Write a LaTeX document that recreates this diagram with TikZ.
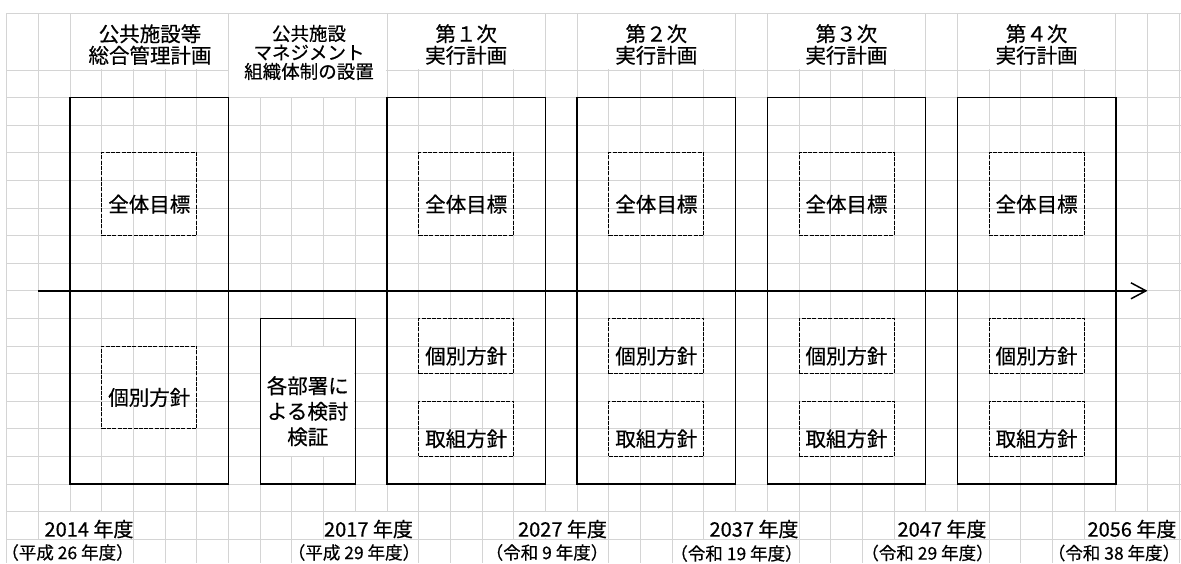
\documentclass[tikz,border=0pt]{standalone}
\usepackage{fontspec}
\setmainfont{Noto Sans CJK JP}[FakeBold=0.5]
\usetikzlibrary{arrows.meta,fit}
\definecolor{gridc}{HTML}{D4D4D4}
\begin{document}
\begin{tikzpicture}[x=1pt,y=-1pt,
  declare function={cx(\k)=6.7+31.69*\k; ry(\j)=70+27.6*(\j-1);},
  gridline/.style={draw=gridc,line width=0.9pt},
  mask/.style={fill=white},
  mainbox/.style={draw=black,line width=1.4pt,inner sep=0pt},
  subbox/.style={draw=black,line width=0.9pt,dash pattern=on 4pt off 1.3pt,inner sep=0pt},
  body/.style={font=\fontsize{20.5}{25.5}\selectfont,align=center,inner sep=0pt},
  head/.style={font=\fontsize{20.5}{21.5}\selectfont,align=center,inner sep=0pt},
  headsmall/.style={font=\fontsize{18.5}{19}\selectfont,align=center,inner sep=0pt},
  yearlbl/.style={font=\fontsize{20}{20}\selectfont,inner sep=0pt},
  eralbl/.style={font=\fontsize{17.5}{17.5}\selectfont,inner sep=0pt},
  timeline/.style={line width=1.5pt,-{Straight Barb[length=15pt,width=16pt,line width=1.5pt]}}
]
\useasboundingbox (0,0) rectangle (1181,563);
% grid
\foreach \k in {0,...,37} \draw[gridline] ({cx(\k)},13.3) -- ({cx(\k)},563);
\draw[gridline] (6.7,13.3) -- (1181,13.3);
\foreach \j in {1,...,18} \draw[gridline] (6.7,{ry(\j)}) -- (1181,{ry(\j)});
% merged cells (hide inner grid lines)
\foreach \a/\b in {2/7,12/17,18/23,24/29,30/35}
  \fill[mask] ({cx(\a)+0.8},14.1) rectangle ({cx(\b)-0.8},{ry(1)-0.8});
\fill[mask] ({cx(7)+0.8},14.1) rectangle ({cx(12)-0.8},{ry(2)-0.8});
\fill[mask] ({cx(8)+0.8},{ry(11)+0.8}) rectangle ({cx(11)-0.8},{ry(15)-0.8});
\foreach \a/\b in {1/4,10/13,16/19,22/25,28/31,34/37}
  \fill[mask] ({cx(\a)+0.8},{ry(17)+0.8}) rectangle ({cx(\b)-0.8},{ry(18)-0.8});
\foreach \a/\b in {0/4,9/13,15/19,21/25,27/31,33/37}
  \fill[mask] ({cx(\a)+0.8},{ry(18)+0.8}) rectangle ({cx(\b)-0.8},563);

% box 1
\node[mainbox,fit={({cx(2)},{ry(2)}) ({cx(7)},{ry(16)})}] (b1) {};
\node[subbox,fit={({cx(3)},{ry(4)}) ({cx(6)},{ry(7)})}] (b1z) {};
\node[subbox,fit={({cx(3)},{ry(11)}) ({cx(6)},{ry(14)})}] (b1k) {};
% box 2
\node[mainbox,fit={({cx(8)},{ry(10)}) ({cx(11)},{ry(16)})}] (b2) {};
% boxes 3-6
\foreach \s/\n in {12/3,18/4,24/5,30/6} {
  \node[mainbox,fit={({cx(\s)},{ry(2)}) ({cx(\s+5)},{ry(16)})}] (b\n) {};
  \node[subbox,fit={({cx(\s+1)},{ry(4)}) ({cx(\s+4)},{ry(7)})}] (b\n z) {};
  \node[subbox,fit={({cx(\s+1)},{ry(10)}) ({cx(\s+4)},{ry(12)})}] (b\n k) {};
  \node[subbox,fit={({cx(\s+1)},{ry(13)}) ({cx(\s+4)},{ry(15)})}] (b\n t) {};
}

% timeline
\coordinate (ts) at ({cx(1)},{ry(9)});
\coordinate (te) at ({cx(36)},{ry(9)});
\draw[timeline] (ts) -- (te);

% texts in boxes
\node[body] (t1z) at ([yshift=-10pt]b1z.center) {全体目標};
\node[body] (t1k) at ([yshift=-10pt]b1k.center) {個別方針};
\node[body] (t2) at ([yshift=-10pt]b2.center) {各部署に\\よる検討\\検証};
\foreach \n in {3,4,5,6} {
  \node[body] (t\n z) at ([yshift=-10pt]b\n z.center) {全体目標};
  \node[body] (t\n k) at ([yshift=-10pt]b\n k.center) {個別方針};
  \node[body] (t\n t) at ([yshift=-10pt]b\n t.center) {取組方針};
}

% headers
\node[head] (h1) at (150,44.5) {公共施設等\\総合管理計画};
\node[headsmall] (h2) at (309,52.5) {公共施設\\マネジメント\\組織体制の設置};
\node[head] (h3) at ({cx(12)+79.2},44.5) {第１次\\実行計画};
\node[head] (h4) at ({cx(18)+79.2},44.5) {第２次\\実行計画};
\node[head] (h5) at ({cx(24)+79.2},44.5) {第３次\\実行計画};
\node[head] (h6) at ({cx(30)+79.2},44.5) {第４次\\実行計画};

% years
\node[yearlbl] (y1) at (89,529) {2014 年度};
\node[yearlbl] (y2) at (368.5,529) {2017 年度};
\node[yearlbl] (y3) at (562.5,529) {2027 年度};
\node[yearlbl] (y4) at (754,529) {2037 年度};
\node[yearlbl] (y5) at (942,529) {2047 年度};
\node[yearlbl] (y6) at (1132,529) {2056 年度};
\node[eralbl] (e1) at (67.5,552.5) {（平成 26 年度）};
\node[eralbl] (e2) at (354,552.5) {（平成 29 年度）};
\node[eralbl] (e3) at (547,552.5) {（令和 9 年度）};
\node[eralbl] (e4) at (736.5,553.5) {（令和 19 年度）};
\node[eralbl] (e5) at (927.5,553) {（令和 29 年度）};
\node[eralbl] (e6) at (1114,553) {（令和 38 年度）};
\end{tikzpicture}
\end{document}
